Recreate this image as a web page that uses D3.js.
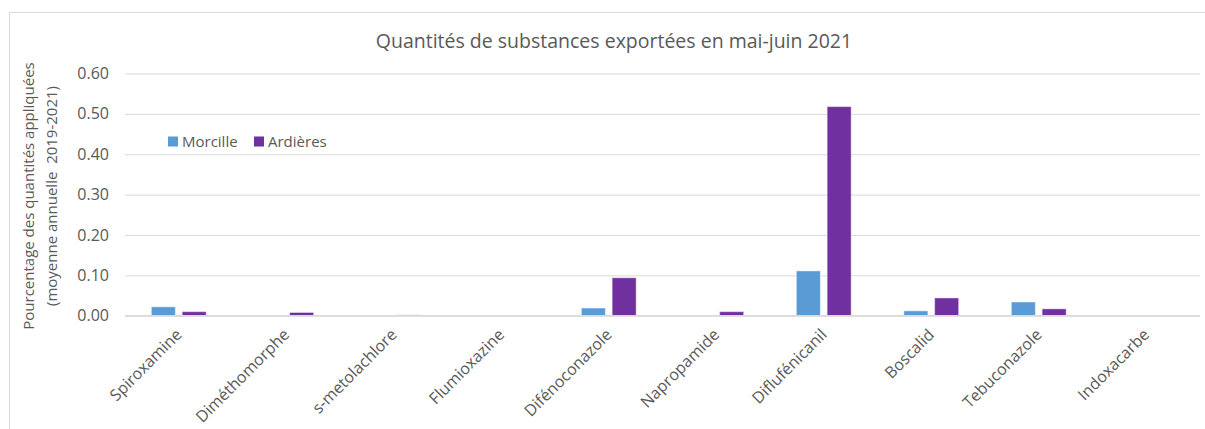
<!DOCTYPE html>
<html><head><meta charset="utf-8">
<script src="https://cdn.jsdelivr.net/npm/d3@7"></script>
<style>
html,body{margin:0;padding:0;background:#fff;}
text{font-family:"Open Sans",sans-serif;fill:#595959;}
</style></head>
<body>
<svg id="chart" width="1205" height="429"></svg>
<script>
const categories = ["Spiroxamine","Diméthomorphe","s-metolachlore","Flumioxazine","Difénoconazole","Napropamide","Diflufénicanil","Boscalid","Tebuconazole","Indoxacarbe"];
const seriesNames = ["Morcille","Ardières"];
const morcille = [0.022,0.001,0.000,0.000,0.019,0.000,0.111,0.012,0.034,0.000];
const ardieres = [0.010,0.008,0.002,0.000,0.094,0.010,0.518,0.044,0.017,0.000];
const yTicks = [0,0.1,0.2,0.3,0.4,0.5,0.6];
const colors = ["#5B9BD5","#7030A0"];
const titleText = "Quantités de substances exportées en mai-juin 2021";
const yTitle = ["Pourcentage des quantités appliquées","(moyenne annuelle  2019-2021)"];

const svg = d3.select("#chart");
const plotLeft = 125, plotRight = 1200, plotTop = 73.5, plotBottom = 315.7;

// chart border
svg.append("rect").attr("x",9.5).attr("y",12.5).attr("width",1220).attr("height",440)
  .attr("fill","none").attr("stroke","#d9d9d9").attr("stroke-width",1);

const x0 = d3.scaleBand().domain(categories).range([plotLeft,plotRight]).paddingInner(0.49).paddingOuter(0.245);
const x1 = d3.scaleBand().domain(seriesNames).range([0,x0.bandwidth()]).paddingInner(0.22);
const y = d3.scaleLinear().domain([0,0.6]).range([plotBottom,plotTop]);

// gridlines
const yAxis = d3.axisLeft(y).tickValues(yTicks).tickFormat(d3.format(".2f")).tickSize(-(plotRight-plotLeft)).tickPadding(16);
const gy = svg.append("g").attr("transform",`translate(${plotLeft},0)`).call(yAxis);
gy.select(".domain").remove();
gy.selectAll(".tick line").attr("stroke","#d9d9d9").attr("stroke-width",1);
gy.selectAll(".tick text").attr("font-size","16px").attr("fill","#595959").style("font-family","'Open Sans',sans-serif");

// bars
const data = categories.map((c,i)=>({cat:c, vals:[morcille[i],ardieres[i]]}));
const groups = svg.append("g").selectAll("g").data(data).join("g")
  .attr("transform",d=>`translate(${x0(d.cat)},0)`);
groups.selectAll("rect").data(d=>d.vals.map((v,j)=>({s:seriesNames[j],v,j}))).join("rect")
  .attr("x",d=>x1(d.s)).attr("width",x1.bandwidth())
  .attr("y",d=>y(d.v)).attr("height",d=>Math.max(0,y(0)-y(d.v)))
  .attr("fill",d=>colors[d.j])
  .attr("stroke","rgba(255,255,255,0.45)").attr("stroke-width",1);

// baseline
svg.append("line").attr("x1",plotLeft).attr("x2",plotRight).attr("y1",y(0)).attr("y2",y(0))
  .attr("stroke","#d9d9d9").attr("stroke-width",1.5);

// x labels
const xAxis = d3.axisBottom(x0).tickSize(0).tickPadding(0);
const gx = svg.append("g").attr("transform",`translate(0,${plotBottom})`).call(xAxis);
gx.select(".domain").remove();
gx.selectAll(".tick text")
  .attr("font-size","16px").attr("fill","#595959").style("font-family","'Open Sans',sans-serif")
  .attr("text-anchor","end").attr("dy",null).attr("y",null)
  .attr("transform","translate(4,20) rotate(-45)");

// title
svg.append("text").attr("x",614).attr("y",48).attr("text-anchor","middle")
  .attr("font-size","19.5px").text(titleText);

// y title
yTitle.forEach((t,i)=>{
  svg.append("text").attr("transform",`translate(${[34,57][i]},196) rotate(-90)`)
    .attr("text-anchor","middle").attr("font-size","15px").style("white-space","pre").text(t);
});

// legend
const legend = svg.append("g");
const lx = [168,254];
seriesNames.forEach((s,i)=>{
  legend.append("rect").attr("x",lx[i]).attr("y",136.5).attr("width",10).attr("height",10).attr("fill",colors[i]);
  legend.append("text").attr("x",lx[i]+14).attr("y",147).attr("font-size","15px").text(s);
});
</script>
</body></html>
